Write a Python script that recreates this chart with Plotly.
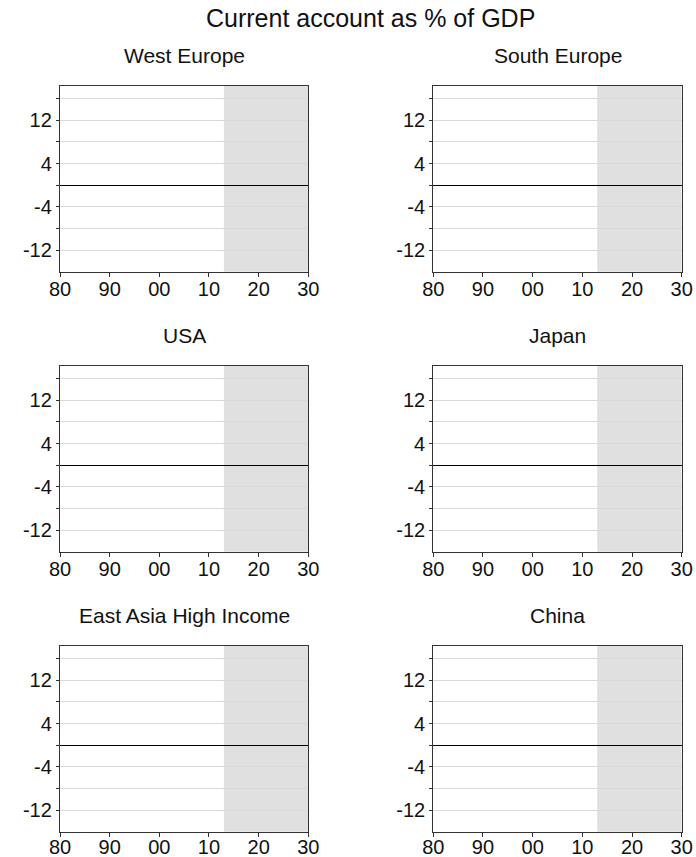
import plotly.graph_objects as go

# Panels and their current-account series (share of GDP, %)
regions = ["West Europe", "South Europe", "USA", "Japan", "East Asia High Income", "China"]
series_years = {r: [] for r in regions}
series_values = {r: [] for r in regions}

# Axis settings
x_range = [1980, 2030]
x_tickvals = [1980, 1990, 2000, 2010, 2020, 2030]
x_ticktext = ["80", "90", "00", "10", "20", "30"]
y_range = [-16, 18.4]
y_tickvals = [-12, -8, -4, 0, 4, 8, 12, 16]
y_ticktext = ["-12", "", "-4", "", "4", "", "12", ""]

# Forecast period shading
forecast_start = 2013
forecast_end = 2030

W, H = 696, 857
FONT = "Liberation Sans, Arial, sans-serif"

# Panel boxes in pixels (left, right, top, bottom)
col_px = [(60, 308.3), (433.3, 681.7)]
row_px = [(85.7, 271.7), (365.7, 551.7), (645.7, 831.7)]

fig = go.Figure()
layout = dict(
    width=W, height=H,
    margin=dict(l=0, r=0, t=0, b=0, autoexpand=False),
    paper_bgcolor="white", plot_bgcolor="white",
    showlegend=False,
    font=dict(family=FONT, color="#111111"),
    shapes=[], annotations=[],
)

for i, region in enumerate(regions):
    r, c = divmod(i, 2)
    n = "" if i == 0 else str(i + 1)
    xl, xr = col_px[c]
    yt, yb = row_px[r]
    xa, ya = "x" + n, "y" + n

    fig.add_trace(go.Scatter(
        x=series_years[region], y=series_values[region],
        mode="lines", line=dict(color="#1f3f8f", width=2),
        xaxis=xa, yaxis=ya, name=region,
    ))

    layout["xaxis" + n] = dict(
        domain=[xl / W, xr / W], anchor=ya, range=x_range,
        tickmode="array", tickvals=x_tickvals, ticktext=x_ticktext,
        ticks="outside", ticklen=4, tickwidth=1, tickcolor="#333333",
        ticklabelstandoff=-7 if r == len(row_px) - 1 else -5,
        showgrid=False, zeroline=False, automargin=False,
        showline=True, linecolor="#333333", linewidth=1.3, mirror=True,
        tickfont=dict(size=20, family=FONT, color="#111111"),
        fixedrange=True,
    )
    layout["yaxis" + n] = dict(
        domain=[1 - yb / H, 1 - yt / H], anchor=xa, range=y_range,
        tickmode="array", tickvals=y_tickvals, ticktext=y_ticktext,
        ticks="outside", ticklen=3, tickwidth=1, tickcolor="#333333",
        showgrid=True, gridcolor="#d9d9d9", gridwidth=1,
        zeroline=True, zerolinecolor="#000000", zerolinewidth=1.2,
        automargin=False,
        showline=True, linecolor="#333333", linewidth=1.3, mirror=True,
        tickfont=dict(size=20, family=FONT, color="#111111"),
        fixedrange=True,
    )

    layout["shapes"].append(dict(
        type="rect", xref=xa, yref=ya + " domain",
        x0=forecast_start, x1=forecast_end, y0=0, y1=1,
        fillcolor="#e0e0e0", line=dict(width=0), layer="below",
    ))

    layout["annotations"].append(dict(
        text=region, xref="paper", yref="paper",
        x=(xl + xr) / 2 / W, y=1 - (yt - 30) / H,
        xanchor="center", yanchor="middle", showarrow=False,
        font=dict(size=21, family=FONT, color="#111111"),
    ))

layout["annotations"].append(dict(
    text="Current account as % of GDP", xref="paper", yref="paper",
    x=(col_px[0][0] + col_px[1][1]) / 2 / W, y=1 - 18 / H,
    xanchor="center", yanchor="middle", showarrow=False,
    font=dict(size=25, family=FONT, color="#111111"),
))

fig.update_layout(**layout)
fig.write_html("out.html")
